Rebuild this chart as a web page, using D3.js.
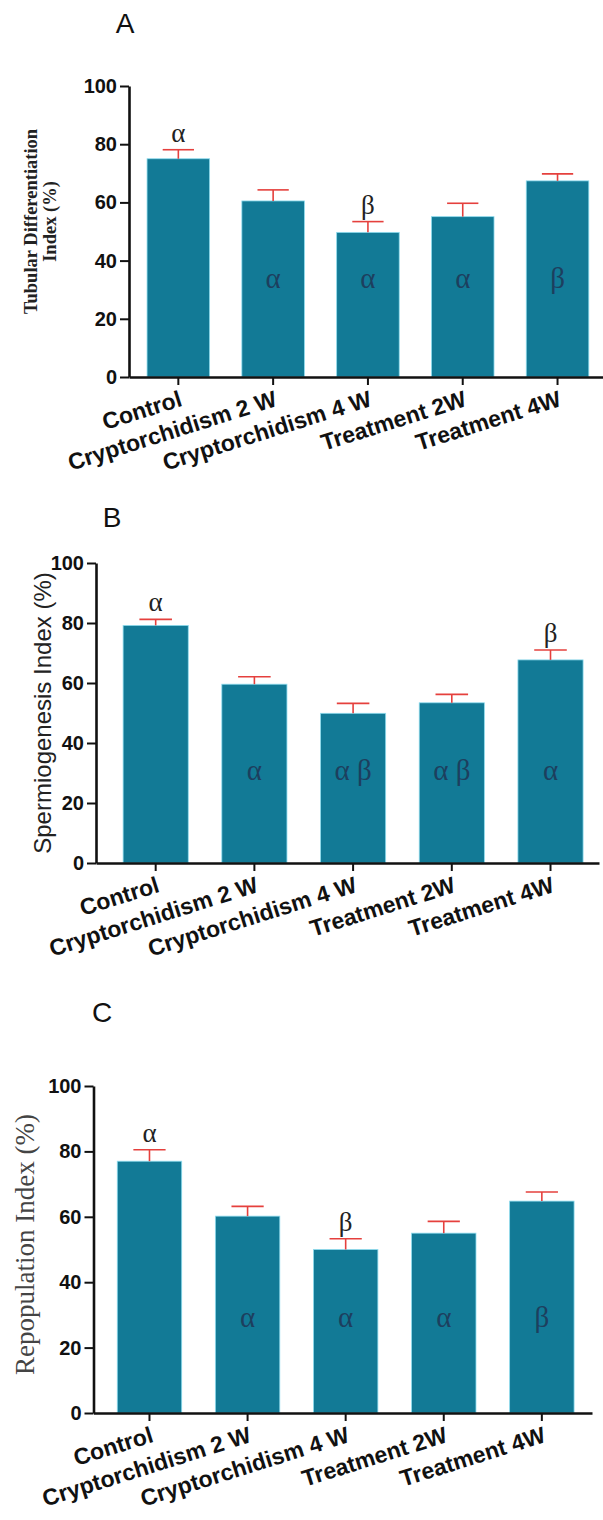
<!DOCTYPE html>
<html>
<head>
<meta charset="utf-8">
<script src="https://cdn.jsdelivr.net/npm/d3@7"></script>
<style>
  html, body { margin: 0; padding: 0; background: #ffffff; }
  svg { display: block; }
</style>
</head>
<body>
<script>
// ---------- data ----------
const categories = ["Control", "Cryptorchidism 2 W", "Cryptorchidism 4 W", "Treatment 2W", "Treatment 4W"];
const yTicks = [0, 20, 40, 60, 80, 100];

const tubularValues = [75.0, 60.5, 49.7, 55.1, 67.4];
const tubularErrors = [3.1, 3.8, 3.7, 4.6, 2.4];
const tubularAbove = ["α", "", "β", "", ""];
const tubularInside = ["", "α", "α", "α", "β"];

const spermValues = [79.2, 59.6, 49.9, 53.4, 67.7];
const spermErrors = [2.0, 2.5, 3.3, 2.8, 3.3];
const spermAbove = ["α", "", "", "", "β"];
const spermInside = ["", "α", "α β", "α β", "α"];

const repopValues = [77.0, 60.2, 50.0, 55.0, 64.8];
const repopErrors = [3.5, 3.0, 3.3, 3.6, 2.8];
const repopAbove = ["α", "", "β", "", ""];
const repopInside = ["", "α", "α", "α", "β"];

// ---------- drawing ----------
const W = 603, H = 1520;
const svg = d3.select("body").append("svg").attr("width", W).attr("height", H);

const BAR = "#127a96";
const ERR = "#e5403d";
const SANS = "'Liberation Sans', Arial, sans-serif";
const SERIF = "'Liberation Serif', 'Times New Roman', serif";

function panel(cfg) {
  const g = svg.append("g");
  const y = d3.scaleLinear().domain([0, 100]).range([cfg.y0, cfg.y100]);
  const x = d3.scaleBand().domain(categories)
    .range([cfg.left, cfg.right])
    .paddingInner(cfg.pi).paddingOuter(cfg.po).align(cfg.align);
  const cx = i => x(categories[i]) + x.bandwidth() / 2;

  // panel letter
  g.append("text").attr("x", cfg.letterX).attr("y", cfg.letterY)
    .attr("text-anchor", "middle").attr("font-family", SANS)
    .attr("font-size", 28).attr("fill", "#111").text(cfg.letter);

  // bars
  g.selectAll("rect.bar").data(cfg.values).join("rect")
    .attr("class", "bar")
    .attr("x", (d, i) => x(categories[i]))
    .attr("width", x.bandwidth())
    .attr("y", d => y(d))
    .attr("height", d => y(0) - y(d))
    .attr("fill", BAR)
    .attr("stroke", "#8fdcee").attr("stroke-width", 0.8);

  // error bars
  const eb = g.selectAll("g.err").data(cfg.values).join("g").attr("class", "err");
  eb.append("line")
    .attr("x1", (d, i) => cx(i)).attr("x2", (d, i) => cx(i))
    .attr("y1", d => y(d))
    .attr("y2", (d, i) => y(d + cfg.errors[i]))
    .attr("stroke", ERR).attr("stroke-width", 1.6);
  eb.append("line")
    .attr("x1", (d, i) => cx(i) - x.bandwidth() * 0.25)
    .attr("x2", (d, i) => cx(i) + x.bandwidth() * 0.25)
    .attr("y1", (d, i) => y(d + cfg.errors[i]))
    .attr("y2", (d, i) => y(d + cfg.errors[i]))
    .attr("stroke", ERR).attr("stroke-width", 1.6);

  // letters above
  g.selectAll("text.above").data(cfg.above).join("text")
    .attr("class", "above")
    .attr("x", (d, i) => cx(i))
    .attr("y", (d, i) => y(cfg.values[i] + cfg.errors[i]) - 8)
    .attr("text-anchor", "middle").attr("font-family", SERIF)
    .attr("font-size", 27).attr("fill", "#222").text(d => d);

  // letters inside
  g.selectAll("text.inside").data(cfg.inside).join("text")
    .attr("class", "inside")
    .attr("x", (d, i) => cx(i))
    .attr("y", y(cfg.insideAt))
    .attr("text-anchor", "middle").attr("font-family", SERIF)
    .attr("font-size", 29).attr("fill", "#1d3f5e").text(d => d);

  // y axis
  const ya = g.append("g").attr("transform", `translate(${cfg.left},0)`)
    .call(d3.axisLeft(y).tickValues(yTicks).tickSize(9).tickSizeOuter(0).tickPadding(3));
  ya.select(".domain").attr("stroke", "#111").attr("stroke-width", 2.6);
  ya.selectAll(".tick line").attr("stroke", "#111").attr("stroke-width", 2);
  ya.selectAll(".tick text").attr("font-family", SANS).attr("font-weight", "bold")
    .attr("font-size", 20).attr("fill", "#111");

  // x axis
  const xa = g.append("g").attr("transform", `translate(0,${cfg.y0})`)
    .call(d3.axisBottom(x).tickSize(8).tickSizeOuter(0));
  xa.select(".domain").attr("stroke", "#111").attr("stroke-width", 2.6);
  xa.selectAll(".tick line").attr("stroke", "#111").attr("stroke-width", 2);
  xa.selectAll(".tick text")
    .attr("x", 0).attr("y", 0).attr("dy", 0)
    .attr("text-anchor", "end")
    .attr("transform", "translate(5,28.5) rotate(-17.5)")
    .attr("font-family", SANS).attr("font-weight", "bold")
    .attr("font-size", 23).attr("fill", "#111");

  // y label
  cfg.ylabel(g, (cfg.y0 + cfg.y100) / 2);
}

panel({
  letter: "A", letterX: 125, letterY: 33,
  values: tubularValues, errors: tubularErrors, above: tubularAbove, inside: tubularInside,
  y0: 377, y100: 86, left: 129, right: 603, pi: 0.34, po: 0.17, align: 0.56, insideAt: 30.5,
  ylabel: (g, cy) => {
    const lines = ["Tubular Differentiation", "Index (%)"];
    const xs = [31, 50];
    lines.forEach((t, k) => {
      g.append("text").attr("transform", `translate(${xs[k]},${cy - 10}) rotate(-90)`)
        .attr("text-anchor", "middle").attr("dy", "0.35em")
        .attr("font-family", SERIF).attr("font-weight", "bold")
        .attr("font-size", 18.5).attr("fill", "#222").text(t);
    });
  }
});

panel({
  letter: "B", letterX: 112, letterY: 527,
  values: spermValues, errors: spermErrors, above: spermAbove, inside: spermInside,
  y0: 863, y100: 563, left: 96, right: 599, pi: 0.34, po: 0.218, align: 0.63, insideAt: 27.7,
  ylabel: (g, cy) => {
    g.append("text").attr("transform", `translate(43,${cy}) rotate(-90)`)
      .attr("text-anchor", "middle").attr("dy", "0.35em")
      .attr("font-family", SANS).attr("font-size", 24).attr("fill", "#222")
      .text("Spermiogenesis Index (%)");
  }
});

panel({
  letter: "C", letterX: 102, letterY: 1022,
  values: repopValues, errors: repopErrors, above: repopAbove, inside: repopInside,
  y0: 1413, y100: 1086, left: 93.5, right: 592, pi: 0.343, po: 0.2125, align: 0.57, insideAt: 26.2,
  ylabel: (g, cy) => {
    g.append("text").attr("transform", `translate(25,${cy - 5}) rotate(-90)`)
      .attr("text-anchor", "middle").attr("dy", "0.35em")
      .attr("font-family", SERIF).attr("font-size", 27).attr("fill", "#444")
      .text("Repopulation Index (%)");
  }
});
</script>
</body>
</html>
